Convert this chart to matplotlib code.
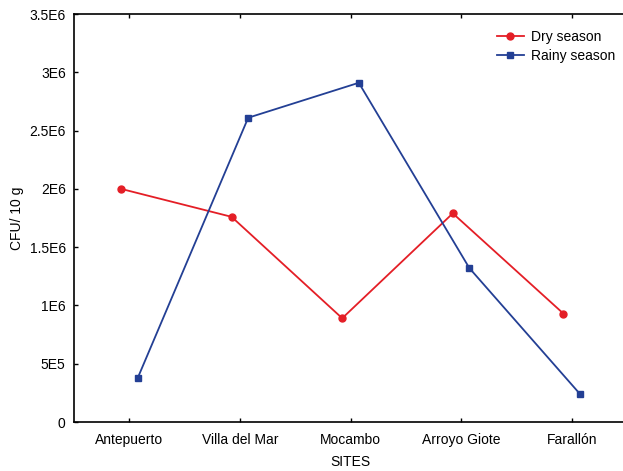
import matplotlib.pyplot as plt
import numpy as np

plt.rcParams['font.family'] = ['Liberation Sans', 'DejaVu Sans']

sites = ["Antepuerto", "Villa del Mar", "Mocambo", "Arroyo Giote", "Farallón"]
dry = [2.0e6, 1.76e6, 0.89e6, 1.79e6, 0.93e6]
rainy = [0.375e6, 2.61e6, 2.91e6, 1.32e6, 0.24e6]
yticks = [0, 5e5, 1e6, 1.5e6, 2e6, 2.5e6, 3e6, 3.5e6]
ylabels = ["0", "5E5", "1E6", "1.5E6", "2E6", "2.5E6", "3E6", "3.5E6"]

red = "#e41e26"
blue = "#233f94"

fig = plt.figure(figsize=(6.23, 4.71), dpi=100)
# axes runs past the right edge like in the original
ax = fig.add_axes([74/623, 1 - 422/471, (627 - 74)/623, (422 - 14)/471])

x = np.arange(len(sites))
ax.plot(x - 0.075, dry, color=red, marker="o", ms=5, lw=1.3, label="Dry season")
ax.plot(x + 0.075, rainy, color=blue, marker="s", ms=5, lw=1.3, label="Rainy season")

ax.set_xlim(-0.5, 4.5)
ax.set_ylim(0, 3.5e6)
ax.set_xticks(x)
ax.set_xticklabels(sites)
ax.set_yticks(yticks)
ax.set_yticklabels(ylabels)
ax.tick_params(direction="in", length=3, width=1, labelsize=10, top=True, pad=6)
ax.tick_params(axis="x", pad=8)
for s in ["left", "bottom", "top"]:
    ax.spines[s].set_linewidth(1.2)
ax.spines["right"].set_visible(False)

ax.set_xlabel("SITES", fontsize=10, labelpad=6)
ax.set_ylabel("CFU/ 10 g", fontsize=10, labelpad=4)

ax.legend(loc="upper right", bbox_to_anchor=(0.978, 0.962), frameon=False,
          fontsize=10, handlelength=1.9, handletextpad=0.5, labelspacing=0.4,
          borderpad=0, borderaxespad=0)

fig.savefig("out.png", dpi=100)
